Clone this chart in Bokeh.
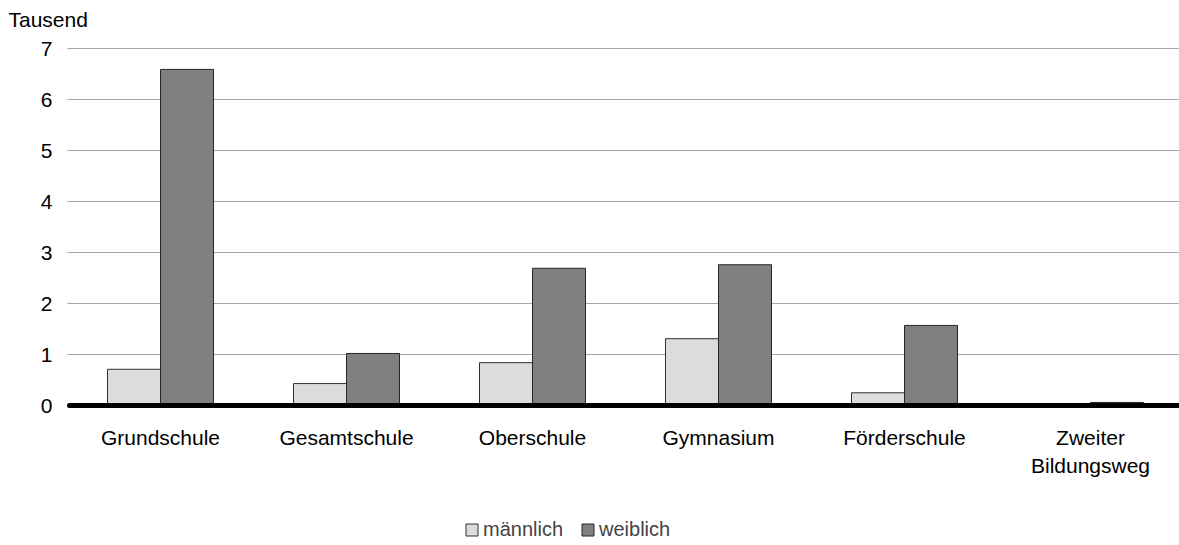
from bokeh.plotting import figure
from bokeh.models import ColumnDataSource, Legend, LegendItem, Range1d
from bokeh.core.properties import value
from bokeh.embed import file_html
from bokeh.resources import INLINE

# ---- data ----
categories = ["Grundschule", "Gesamtschule", "Oberschule", "Gymnasium", "Förderschule", "Zweiter\nBildungsweg"]
maennlich = [0.71, 0.43, 0.84, 1.31, 0.25, 0.0]
weiblich = [6.59, 1.02, 2.69, 2.76, 1.57, 0.06]
y_ticks = [0, 1, 2, 3, 4, 5, 6, 7]
series_names = ["männlich", "weiblich"]
unit_label = "Tausend"

FONT = "Liberation Sans"
FS = "21px"

# ---- layout (pixels) ----
W, H = 1179, 545
X0_PX, Y0_PX = 67, 405          # pixel position of data (0, 0)
PX_PER_UNIT = 51.0              # y pixels per thousand
CAT_PX = 186.0                  # x pixels per category

x_start = -X0_PX / CAT_PX
x_end = (W - X0_PX) / CAT_PX
y_top = Y0_PX / PX_PER_UNIT
y_bottom = -(H - Y0_PX) / PX_PER_UNIT

def px_x(px):
    return (px - X0_PX) / CAT_PX

def px_y(py):
    return (Y0_PX - py) / PX_PER_UNIT

centers = [i + 0.5 for i in range(len(categories))]
off = 0.1425
bw = 0.285

src = ColumnDataSource(dict(
    xm=[c - off for c in centers],
    xw=[c + off for c in centers],
    m=maennlich,
    w=weiblich,
))

p = figure(width=W, height=H, output_backend="svg", toolbar_location=None,
           x_range=Range1d(x_start, x_end), y_range=Range1d(y_bottom, y_top),
           min_border_left=0, min_border_right=0, min_border_top=0, min_border_bottom=0)
p.outline_line_color = None
p.background_fill_color = "white"
p.border_fill_color = "white"
p.xaxis.visible = False
p.yaxis.visible = False
p.xgrid.grid_line_color = None
p.ygrid.grid_line_color = None

# horizontal gridlines at the y ticks
grid_src = ColumnDataSource(dict(
    x0=[0.0] * len(y_ticks), x1=[x_end] * len(y_ticks), y=y_ticks))
p.segment(x0="x0", y0="y", x1="x1", y1="y", source=grid_src,
          line_color="#a6a6a6", line_width=1)

# y tick labels
ylab_src = ColumnDataSource(dict(x=[px_x(52)] * len(y_ticks), y=y_ticks,
                                 t=[str(v) for v in y_ticks]))
p.text(x="x", y="y", text="t", source=ylab_src, text_align="right", text_baseline="middle",
       text_font=value(FONT), text_font_size=FS, text_color="black")

# bars
rm = p.vbar(x="xm", top="m", bottom=0, width=bw, source=src,
            fill_color="#dcdcdc", line_color="#303030", line_width=1)
rw = p.vbar(x="xw", top="w", bottom=0, width=bw, source=src,
            fill_color="#808080", line_color="#262626", line_width=1)

# category axis line
p.segment(x0=[px_x(69)], y0=[0], x1=[x_end], y1=[0],
          line_color="black", line_width=5, line_cap="round")

# category labels
lab_src = ColumnDataSource(dict(x=centers, y=[px_y(425)] * len(centers), t=categories))
p.text(x="x", y="y", text="t", source=lab_src, text_align="center", text_baseline="top",
       text_font=value(FONT), text_font_size=FS, text_color="black", text_line_height=1.22)

# unit label
p.text(x=[px_x(8)], y=[px_y(19)], text=[unit_label], text_align="left",
       text_baseline="alphabetic", text_font=value(FONT), text_font_size=FS, text_color="black")

legend = Legend(items=[LegendItem(label=series_names[0], renderers=[rm]),
                       LegendItem(label=series_names[1], renderers=[rw])],
                orientation="horizontal", location=(464, 4),
                label_text_font=FONT, label_text_font_size="20px",
                glyph_width=15, glyph_height=15, label_standoff=4, spacing=17,
                padding=0, margin=0, label_height=22,
                background_fill_alpha=0, border_line_color=None)
p.add_layout(legend)

open("out.html", "w").write(file_html(p, INLINE))
